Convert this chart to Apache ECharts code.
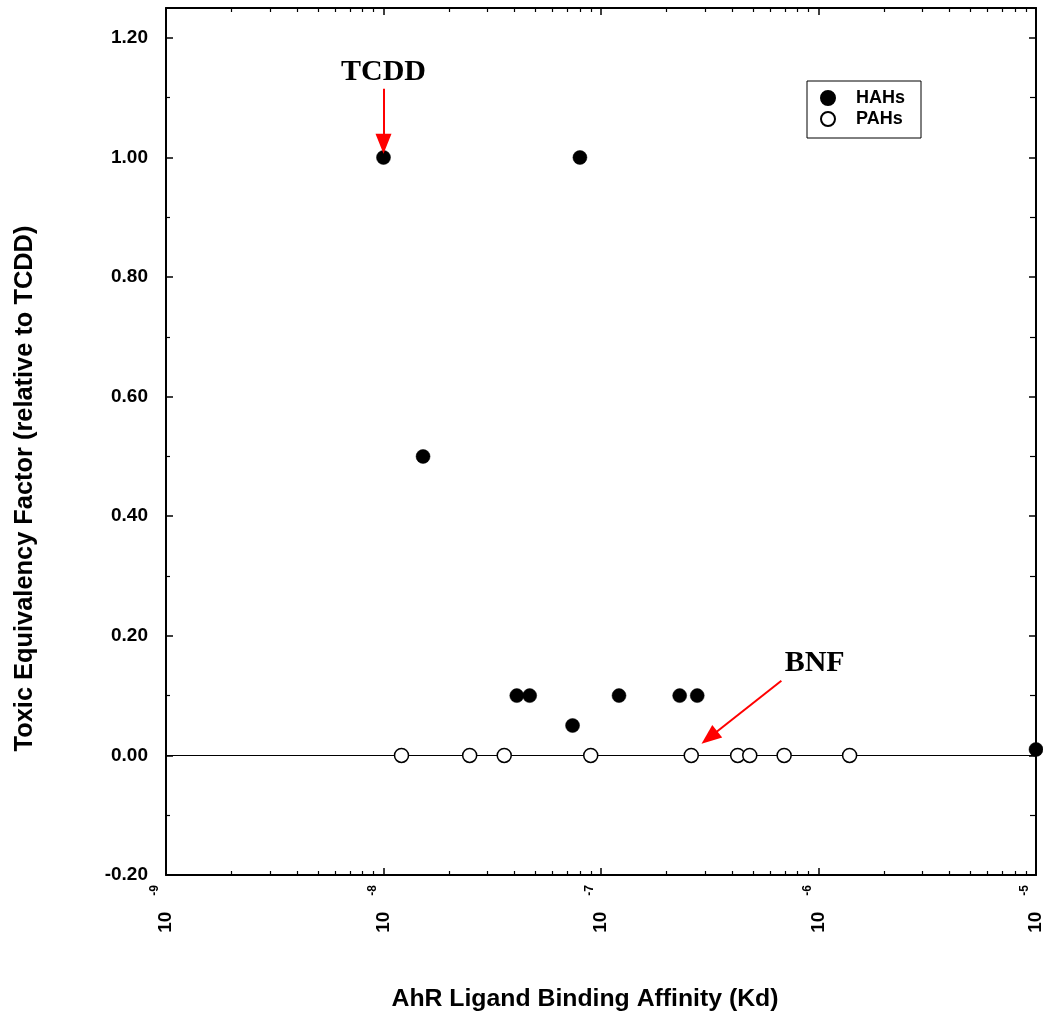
<!DOCTYPE html>
<html>
<head>
<meta charset="utf-8">
<script src="https://cdn.jsdelivr.net/npm/echarts@6/dist/echarts.min.js"></script>
<style>html,body{margin:0;padding:0;background:#fff}#c{width:1043px;height:1013px}</style>
</head>
<body>
<div id="c"></div>
<script>
// ---- data ----
const hahKd  = [1e-8, 8.0e-8, 1.52e-8, 4.1e-8, 4.7e-8, 7.4e-8, 1.21e-7, 2.3e-7, 2.77e-7, 1e-5];
const hahTEF = [1.0, 1.0, 0.5, 0.1, 0.1, 0.05, 0.1, 0.1, 0.1, 0.01];
const pahKd  = [1.21e-8, 2.49e-8, 3.59e-8, 8.97e-8, 2.6e-7, 4.25e-7, 4.83e-7, 6.95e-7, 1.39e-6];
const pahTEF = [0, 0, 0, 0, 0, 0, 0, 0, 0];
const seriesNames = ['HAHs', 'PAHs'];
const yTickLabels = [-0.2, 0, 0.2, 0.4, 0.6, 0.8, 1.0, 1.2];
const yMinorTicks = [-0.1, 0.1, 0.3, 0.5, 0.7, 0.9, 1.1];
const xDecades = [-9, -8, -7, -6, -5];
// annotations (data coordinates)
const tcddLabel = {text: 'TCDD', at: [1e-8, 1.143]};
const tcddArrow = [[1e-8, 1.115], [1e-8, 1.023]];
const bnfLabel = {text: 'BNF', at: [9.6e-7, 0.154]};
const bnfArrow = [[6.75e-7, 0.125], [3.15e-7, 0.030]];

const xMinorTicks = [];
for (let i = 0; i < xDecades.length - 1; i++) {
  for (let m = 2; m <= 9; m++) xMinorTicks.push(m * Math.pow(10, xDecades[i]));
}

const SANS = "'Liberation Sans', Arial, sans-serif";
const SERIF = "'Liberation Serif', 'Times New Roman', serif";
const black = '#000';
const xMin = Math.pow(10, xDecades[0]), xMax = Math.pow(10, xDecades[xDecades.length - 1]);

function xAxisBase(pos) {
  return {type: 'log', logBase: 10, min: xMin, max: xMax, position: pos, gridIndex: 0,
    splitLine: {show: false}, minorTick: {show: false}};
}
function yAxisBase(pos) {
  return {type: 'value', min: -0.2, max: 1.25, position: pos, gridIndex: 0,
    splitLine: {show: false}};
}
const mainLine = {show: true, onZero: false, lineStyle: {color: black, width: 2}};
const noLine = {show: false, onZero: false};

const option = {
  animation: false,
  backgroundColor: '#fff',
  textStyle: {fontFamily: SANS},
  grid: {left: 166, right: 7, top: 8, bottom: 138, containLabel: false, outerBoundsMode: 'none'},
  legend: {
    data: seriesNames,
    orient: 'vertical',
    left: 807, top: 81,
    width: 113,
    padding: [8, 16, 10, 13],
    borderColor: black, borderWidth: 1,
    itemWidth: 14, itemHeight: 14, itemGap: 3,
    icon: 'circle',
    textStyle: {fontFamily: SANS, fontWeight: 'bold', fontSize: 18, color: black, lineHeight: 18, padding: [0, 0, 0, 16]}
  },
  xAxis: [
    Object.assign(xAxisBase('bottom'), {
      name: 'AhR Ligand Binding Affinity (Kd)',
      nameLocation: 'middle', nameGap: 112,
      nameTextStyle: {fontFamily: SANS, fontWeight: 'bold', fontSize: 24.8, color: black, padding: [0, 32, 0, 0]},
      axisLine: mainLine,
      axisTick: {show: true, inside: true, length: 7, lineStyle: {color: black, width: 1.5}},
      axisLabel: {
        show: true, rotate: 90, margin: 10, color: black,
        formatter: function (v) {
          const e = Math.round(Math.log10(v));
          return '{b|10}{s|' + e + '}';
        },
        rich: {
          b: {fontFamily: SANS, fontWeight: 'bold', fontSize: 19, lineHeight: 34, color: black},
          s: {fontFamily: SANS, fontWeight: 'bold', fontSize: 12, lineHeight: 12, verticalAlign: 'top', padding: [0, 0, 0, 16], color: black}
        }
      }
    }),
    Object.assign(xAxisBase('bottom'), {
      axisLine: noLine,
      axisTick: {show: true, inside: true, length: 4, customValues: xMinorTicks, lineStyle: {color: black, width: 1.2}},
      axisLabel: {show: false}
    }),
    Object.assign(xAxisBase('top'), {
      axisLine: mainLine,
      axisTick: {show: true, inside: true, length: 7, lineStyle: {color: black, width: 1.5}},
      axisLabel: {show: false}
    }),
    Object.assign(xAxisBase('top'), {
      axisLine: noLine,
      axisTick: {show: true, inside: true, length: 4, customValues: xMinorTicks, lineStyle: {color: black, width: 1.2}},
      axisLabel: {show: false}
    })
  ],
  yAxis: [
    Object.assign(yAxisBase('left'), {
      name: 'Toxic Equivalency Factor (relative to TCDD)',
      nameLocation: 'middle', nameGap: 129, nameRotate: 90,
      nameTextStyle: {fontFamily: SANS, fontWeight: 'bold', fontSize: 25.4, color: black, padding: [0, 94, 0, 0]},
      axisLine: mainLine,
      axisTick: {show: true, inside: true, length: 7, customValues: yTickLabels, lineStyle: {color: black, width: 1.5}},
      axisLabel: {show: true, margin: 18, customValues: yTickLabels, color: black,
        fontFamily: SANS, fontWeight: 'bold', fontSize: 19,
        formatter: function (v) { return Number(v).toFixed(2); }}
    }),
    Object.assign(yAxisBase('left'), {
      axisLine: noLine,
      axisTick: {show: true, inside: true, length: 4, customValues: yMinorTicks, lineStyle: {color: black, width: 1.2}},
      axisLabel: {show: false}
    }),
    Object.assign(yAxisBase('right'), {
      axisLine: mainLine,
      axisTick: {show: true, inside: true, length: 7, customValues: yTickLabels, lineStyle: {color: black, width: 1.5}},
      axisLabel: {show: false}
    }),
    Object.assign(yAxisBase('right'), {
      axisLine: noLine,
      axisTick: {show: true, inside: true, length: 6, customValues: yMinorTicks, lineStyle: {color: black, width: 1.2}},
      axisLabel: {show: false}
    })
  ],
  series: [
    {
      name: seriesNames[0], type: 'scatter', xAxisIndex: 0, yAxisIndex: 0, z: 10,
      symbol: 'circle', symbolSize: 14,
      itemStyle: {color: black, borderColor: black, borderWidth: 0.5, opacity: 1},
      data: hahKd.map((k, i) => [k, hahTEF[i]]),
      markPoint: {
        symbol: 'circle', symbolSize: 0, z: 12,
        itemStyle: {color: 'rgba(0,0,0,0)'},
        label: {show: true, position: 'inside', color: black, fontFamily: SERIF, fontWeight: 'bold', fontSize: 30,
          formatter: function (p) { return p.name; }},
        data: [
          {name: tcddLabel.text, coord: tcddLabel.at},
          {name: bnfLabel.text, coord: bnfLabel.at}
        ]
      },
      markLine: {
        silent: true, z: 12,
        symbol: ['none', 'triangle'], symbolSize: [16, 20],
        lineStyle: {color: '#ff0000', width: 2, type: 'solid', opacity: 1},
        label: {show: false},
        data: [
          [{coord: tcddArrow[0]}, {coord: tcddArrow[1]}],
          [{coord: bnfArrow[0]}, {coord: bnfArrow[1]}]
        ]
      }
    },
    {
      name: seriesNames[1], type: 'scatter', xAxisIndex: 0, yAxisIndex: 0, z: 10,
      symbol: 'circle', symbolSize: 14,
      itemStyle: {color: '#fff', borderColor: black, borderWidth: 1.5, opacity: 1},
      data: pahKd.map((k, i) => [k, pahTEF[i]]),
      markLine: {
        silent: true, z: 1,
        symbol: ['none', 'none'],
        lineStyle: {color: black, width: 1.2, type: 'solid', opacity: 1},
        label: {show: false},
        data: [{yAxis: 0}]
      }
    }
  ]
};

const chart = echarts.init(document.getElementById('c'), null, {renderer: 'canvas'});
chart.setOption(option);
</script>
</body>
</html>
